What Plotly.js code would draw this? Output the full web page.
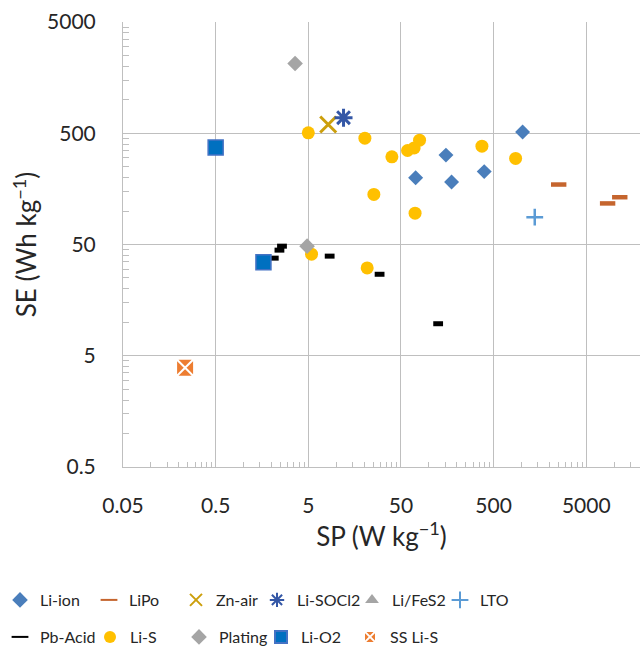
<!DOCTYPE html>
<html>
<head>
<meta charset="utf-8">
<script src="https://cdn.plot.ly/plotly-3.0.1.min.js"></script>
<style>html,body{margin:0;padding:0;background:#fff;}#chart{width:640px;height:647px;}</style>
</head>
<body>
<div id="chart"></div>
<script>
// ---- Data (SP in W/kg, SE in Wh/kg) ----
var liIonX = [72, 153, 176, 396, 1028];
var liIonY = [199, 318, 182, 226, 512];
var liPoX = [2520, 8500, 11500];
var liPoY = [173, 117, 133];
var znAirX = [8.2];
var znAirY = [600];
var liSOCl2X = [12];
var liSOCl2Y = [690];
var liFeS2X = [null];
var liFeS2Y = [null];
var ltoX = [1390];
var ltoY = [88];
var pbAcidX = [2.12, 2.44, 2.6, 8.5, 29.4, 126];
var pbAcidY = [37.7, 44.5, 48.3, 39.3, 27, 9.7];
var liSX = [5.0, 20.4, 25.5, 39.9, 58.9, 69.4, 79.4, 71, 374, 864, 5.42, 21.6];
var liSY = [504, 452, 141, 307, 350, 369, 433, 95.6, 383, 297, 40.9, 30.8];
var platingX = [3.6, 4.85];
var platingY = [2120, 48.3];
var liO2X = [0.5, 1.64];
var liO2Y = [372, 34.7];
var ssLiSX = [0.234];
var ssLiSY = [3.9];

var tickVals = [0.05, 0.5, 5, 50, 500, 5000];
var tickText = ['0.05', '0.5', '5', '50', '500', '5000'];
var yTickVals = [0.5, 5, 50, 500, 5000];
var yTickText = ['0.5', '5', '50', '500', '5000'];

function minorVals(start, decades) {
  var out = [];
  for (var k = 0; k < decades; k++) {
    var b = start * Math.pow(10, k);
    for (var m = 2; m <= 9; m++) out.push(b * m);
  }
  return out;
}

var FONT = 'Lato, "Open Sans", sans-serif';
var TXT = '#262626';

var traces = [
  {name: 'Li-ion', x: liIonX, y: liIonY, marker: {symbol: 'diamond', size: 11.5, color: '#4A7EBB'}},
  {name: 'LiPo', x: liPoX, y: liPoY, marker: {symbol: 'line-ew-open', size: 11, color: '#C5652E', line: {color: '#C5652E', width: 4.5}}},
  {name: 'Zn-air', x: znAirX, y: znAirY, marker: {symbol: 'x-thin-open', size: 16, color: '#CC9F0C', line: {color: '#CC9F0C', width: 3}}},
  {name: 'Li-SOCl2', x: liSOCl2X, y: liSOCl2Y, marker: {symbol: 'asterisk-open', size: 15, color: '#3457A6', line: {color: '#3457A6', width: 3}}},
  {name: 'Li/FeS2', x: liFeS2X, y: liFeS2Y, marker: {symbol: 'triangle-up', size: 12, color: '#A5A5A5'}},
  {name: 'LTO', x: ltoX, y: ltoY, marker: {symbol: 'cross-thin-open', size: 12, color: '#5B9BD5', line: {color: '#5B9BD5', width: 2.5}}},
  {name: 'Pb-Acid', x: pbAcidX, y: pbAcidY, marker: {symbol: 'line-ew-open', size: 7, color: '#000000', line: {color: '#000000', width: 5}}},
  {name: 'Li-S', x: liSX, y: liSY, marker: {symbol: 'circle', size: 13, color: '#FFC000'}},
  {name: 'Plating', x: platingX, y: platingY, marker: {symbol: 'diamond', size: 12, color: '#A5A5A5'}},
  {name: 'Li-O2', x: liO2X, y: liO2Y, marker: {symbol: 'square', size: 15, color: '#0070C0', line: {color: '#4472C4', width: 1.5}}},
  {name: 'SS Li-S', x: ssLiSX, y: ssLiSY, marker: {symbol: 'square-x', size: 18, color: '#ED7D31', line: {color: '#FFFFFF', width: 2}}}
];

// legend item placement (pixels): [left x, centre y]
var legendPos = [
  [0, 600], [89, 600], [176, 600], [257, 600], [352, 600], [440, 600],
  [0, 637], [90, 637], [179, 637], [261, 637], [350, 637]
];

var gridC = '#BFBFBF';
var layout = {
  width: 640, height: 647,
  margin: {l: 123, r: 0, t: 22, b: 180, pad: 0},
  paper_bgcolor: '#FFFFFF', plot_bgcolor: '#FFFFFF',
  font: {family: FONT, color: TXT, size: 21},
  xaxis: {
    type: 'log', range: [Math.log10(0.05), 4.279], automargin: false,
    tickmode: 'array', tickvals: tickVals, ticktext: tickText,
    ticks: '', ticklabelstandoff: 20,
    showgrid: true, gridcolor: gridC, gridwidth: 1,
    showline: true, linecolor: gridC, linewidth: 1,
    zeroline: false, tickfont: {size: 21, color: TXT},
    minor: {tickmode: 'array', tickvals: minorVals(0.05, 6), ticks: 'inside', ticklen: 5, tickcolor: gridC, showgrid: false},
    title: {text: 'SP (W kg<sup>−1</sup>)', font: {size: 26, color: TXT}, standoff: 7}
  },
  yaxis: {
    type: 'log', range: [Math.log10(0.5), Math.log10(5000)], automargin: false,
    tickmode: 'array', tickvals: yTickVals, ticktext: yTickText,
    ticks: '', ticklabelstandoff: 22,
    showgrid: true, gridcolor: gridC, gridwidth: 1,
    showline: true, linecolor: gridC, linewidth: 1,
    zeroline: false, tickfont: {size: 21, color: TXT},
    minor: {tickmode: 'array', tickvals: minorVals(0.5, 4), ticks: 'inside', ticklen: 6, tickcolor: gridC, showgrid: false},
    title: {text: 'SE (Wh kg<sup>−1</sup>)', font: {size: 26, color: TXT}, standoff: 2}
  },
  showlegend: true
};

traces.forEach(function (t, i) {
  var key = i === 0 ? 'legend' : 'legend' + (i + 1);
  t.type = 'scatter';
  t.mode = 'markers';
  t.cliponaxis = false;
  t.legend = key;
  layout[key] = {
    orientation: 'h', xref: 'container', yref: 'container',
    x: legendPos[i][0] / 640, y: 1 - legendPos[i][1] / 647,
    xanchor: 'left', yanchor: 'middle',
    font: {size: 16, color: TXT, family: FONT}, bgcolor: 'rgba(0,0,0,0)', itemsizing: 'constant'
  };
});

Plotly.newPlot('chart', traces, layout, {staticPlot: true, displayModeBar: false});
</script>
</body>
</html>
